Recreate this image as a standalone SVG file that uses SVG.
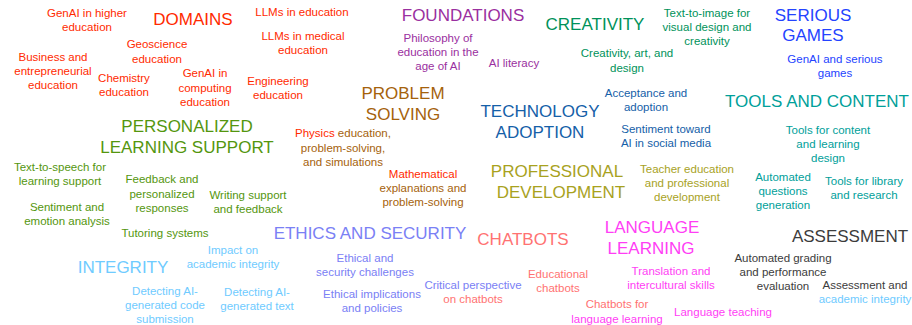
<svg xmlns="http://www.w3.org/2000/svg" width="912" height="325" viewBox="0 0 912 325">
<style>
text{font-family:"Liberation Sans",Arial,sans-serif;text-anchor:middle}
.h{font-size:17px}
.s{font-size:11.5px}
.dom{fill:#FF2A00}
.fnd{fill:#9A2FA0}
.cre{fill:#00925A}
.ser{fill:#2443FF}
.tool{fill:#00A09A}
.tech{fill:#1560A8}
.prob{fill:#A5620C}
.pers{fill:#54960E}
.prof{fill:#A8A21E}
.eth{fill:#7A80F5}
.int{fill:#6FCBFF}
.chat{fill:#FF7272}
.lang{fill:#FF3EF5}
.ass{fill:#3C3C3C}
</style>
<rect width="912" height="325" fill="#FFFFFF"/>
<g id="connectors"/>
<g id="domains">
<text class="h dom" x="193" y="25">DOMAINS</text>
</g>
<g id="genai-higher-ed"><text class="s dom"><tspan x="87" y="17">GenAI in higher</tspan><tspan x="87" y="31">education</tspan></text></g>
<g id="llms-education"><text class="s dom" x="302" y="16">LLMs in education</text></g>
<g id="llms-medical"><text class="s dom"><tspan x="303" y="40">LLMs in medical</tspan><tspan x="303" y="54">education</tspan></text></g>
<g id="geoscience"><text class="s dom"><tspan x="157" y="48">Geoscience</tspan><tspan x="157" y="63">education</tspan></text></g>
<g id="business"><text class="s dom"><tspan x="53" y="61">Business and</tspan><tspan x="53" y="75">entrepreneurial</tspan><tspan x="53" y="89">education</tspan></text></g>
<g id="chemistry"><text class="s dom"><tspan x="124" y="82">Chemistry</tspan><tspan x="124" y="96">education</tspan></text></g>
<g id="computing"><text class="s dom"><tspan x="205" y="77">GenAI in</tspan><tspan x="205" y="92">computing</tspan><tspan x="205" y="106">education</tspan></text></g>
<g id="engineering"><text class="s dom"><tspan x="278" y="85">Engineering</tspan><tspan x="278" y="99">education</tspan></text></g>

<g id="foundations"><text class="h fnd" x="463" y="21">FOUNDATIONS</text></g>
<g id="philosophy"><text class="s fnd"><tspan x="438" y="42">Philosophy of</tspan><tspan x="438" y="56">education in the</tspan><tspan x="438" y="70">age of AI</tspan></text></g>
<g id="ai-literacy"><text class="s fnd" x="514" y="67">AI literacy</text></g>

<g id="creativity"><text class="h cre" x="595" y="30">CREATIVITY</text></g>
<g id="creativity-art"><text class="s cre"><tspan x="627" y="57">Creativity, art, and</tspan><tspan x="627" y="72">design</tspan></text></g>
<g id="text-to-image"><text class="s cre"><tspan x="707" y="17">Text-to-image for</tspan><tspan x="707" y="31">visual design and</tspan><tspan x="707" y="45">creativity</tspan></text></g>

<g id="serious-games"><text class="h ser"><tspan x="813" y="21">SERIOUS</tspan><tspan x="813" y="41">GAMES</tspan></text></g>
<g id="genai-serious"><text class="s ser"><tspan x="835" y="63">GenAI and serious</tspan><tspan x="835" y="77">games</tspan></text></g>

<g id="tools-content"><text class="h tool" x="817" y="107">TOOLS AND CONTENT</text></g>
<g id="tools-content-design"><text class="s tool"><tspan x="828" y="134">Tools for content</tspan><tspan x="828" y="148">and learning</tspan><tspan x="828" y="162">design</tspan></text></g>
<g id="automated-questions"><text class="s tool"><tspan x="783" y="181">Automated</tspan><tspan x="783" y="195">questions</tspan><tspan x="783" y="209">generation</tspan></text></g>
<g id="tools-library"><text class="s tool"><tspan x="864" y="185">Tools for library</tspan><tspan x="864" y="199">and research</tspan></text></g>

<g id="technology-adoption"><text class="h tech"><tspan x="540" y="117">TECHNOLOGY</tspan><tspan x="540" y="138">ADOPTION</tspan></text></g>
<g id="acceptance"><text class="s tech"><tspan x="646" y="97">Acceptance and</tspan><tspan x="646" y="111">adoption</tspan></text></g>
<g id="sentiment-social"><text class="s tech"><tspan x="666" y="133">Sentiment toward</tspan><tspan x="666" y="147">AI in social media</tspan></text></g>

<g id="problem-solving"><text class="h prob"><tspan x="403" y="99">PROBLEM</tspan><tspan x="403" y="120">SOLVING</tspan></text></g>
<g id="physics"><text class="s prob"><tspan x="343" y="137"><tspan class="dom">Physics</tspan> education,</tspan><tspan x="343" y="152">problem-solving,</tspan><tspan x="343" y="166">and simulations</tspan></text></g>
<g id="mathematical"><text class="s prob"><tspan class="dom" x="423" y="178">Mathematical</tspan><tspan x="423" y="192">explanations and</tspan><tspan x="423" y="206">problem-solving</tspan></text></g>

<g id="personalized"><text class="h pers"><tspan x="187" y="132">PERSONALIZED</tspan><tspan x="187" y="153">LEARNING SUPPORT</tspan></text></g>
<g id="text-to-speech"><text class="s pers"><tspan x="60" y="171">Text-to-speech for</tspan><tspan x="60" y="185">learning support</tspan></text></g>
<g id="feedback"><text class="s pers"><tspan x="162" y="183">Feedback and</tspan><tspan x="162" y="198">personalized</tspan><tspan x="162" y="212">responses</tspan></text></g>
<g id="writing"><text class="s pers"><tspan x="248" y="199">Writing support</tspan><tspan x="248" y="213">and feedback</tspan></text></g>
<g id="sentiment-emotion"><text class="s pers"><tspan x="67" y="211">Sentiment and</tspan><tspan x="67" y="225">emotion analysis</tspan></text></g>
<g id="tutoring"><text class="s pers" x="165" y="237">Tutoring systems</text></g>

<g id="professional"><text class="h prof"><tspan x="557" y="177">PROFESSIONAL</tspan><tspan x="561" y="198">DEVELOPMENT</tspan></text></g>
<g id="teacher-education"><text class="s prof"><tspan x="687" y="173">Teacher education</tspan><tspan x="687" y="187">and professional</tspan><tspan x="687" y="201">development</tspan></text></g>

<g id="ethics"><text class="h eth" x="370" y="239">ETHICS AND SECURITY</text></g>
<g id="ethical-challenges"><text class="s eth"><tspan x="365" y="262">Ethical and</tspan><tspan x="365" y="276">security challenges</tspan></text></g>
<g id="ethical-implications"><text class="s eth"><tspan x="372" y="298">Ethical implications</tspan><tspan x="372" y="312">and policies</tspan></text></g>
<g id="critical-perspective"><text class="s"><tspan class="eth" x="473" y="289">Critical perspective</tspan><tspan class="chat" x="473" y="303">on chatbots</tspan></text></g>

<g id="integrity"><text class="h int" x="123" y="273">INTEGRITY</text></g>
<g id="impact-integrity"><text class="s int"><tspan x="233" y="254">Impact on</tspan><tspan x="233" y="268">academic integrity</tspan></text></g>
<g id="detect-code"><text class="s int"><tspan x="165" y="295">Detecting AI-</tspan><tspan x="165" y="309">generated code</tspan><tspan x="165" y="323">submission</tspan></text></g>
<g id="detect-text"><text class="s int"><tspan x="257" y="296">Detecting AI-</tspan><tspan x="257" y="310">generated text</tspan></text></g>

<g id="chatbots"><text class="h chat" x="523" y="245">CHATBOTS</text></g>
<g id="educational-chatbots"><text class="s chat"><tspan x="558" y="278">Educational</tspan><tspan x="558" y="292">chatbots</tspan></text></g>
<g id="chatbots-language"><text class="s"><tspan class="chat" x="617" y="308">Chatbots for</tspan><tspan class="lang" x="617" y="323">language learning</tspan></text></g>

<g id="language-learning"><text class="h lang"><tspan x="652" y="233">LANGUAGE</tspan><tspan x="651" y="254">LEARNING</tspan></text></g>
<g id="translation"><text class="s lang"><tspan x="671" y="275">Translation and</tspan><tspan x="671" y="289">intercultural skills</tspan></text></g>
<g id="language-teaching"><text class="s lang" x="723" y="316">Language teaching</text></g>

<g id="assessment"><text class="h ass" x="850" y="242">ASSESSMENT</text></g>
<g id="automated-grading"><text class="s ass"><tspan x="783" y="262">Automated grading</tspan><tspan x="783" y="276">and performance</tspan><tspan x="783" y="290">evaluation</tspan></text></g>
<g id="assessment-integrity"><text class="s"><tspan class="ass" x="865" y="289">Assessment and</tspan><tspan class="int" x="865" y="303">academic integrity</tspan></text></g>
</svg>
